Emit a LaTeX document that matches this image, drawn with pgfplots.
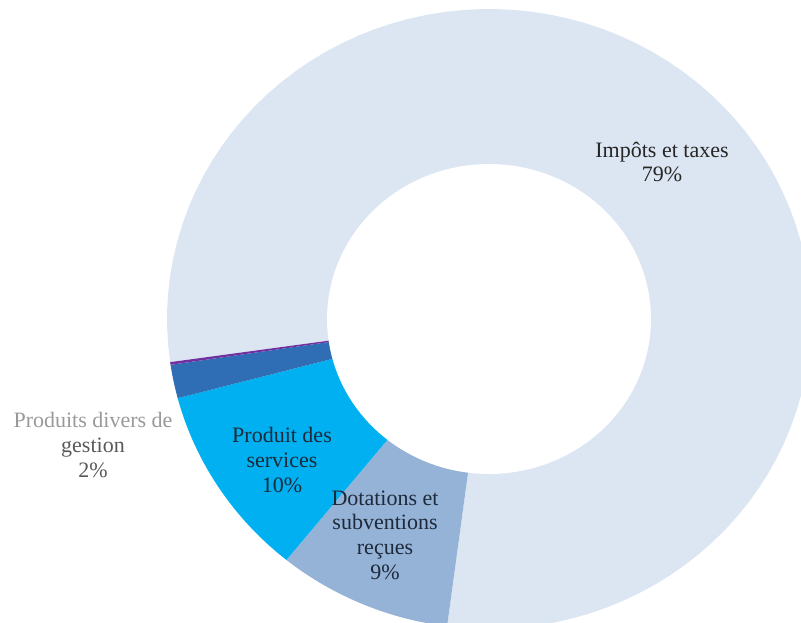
\documentclass[border=0pt]{standalone}
\usepackage{pgfplots}
\usepackage{pgfplotstable}
\pgfplotsset{compat=1.18}
\usepackage{fontspec}
\setmainfont{Liberation Serif}
\definecolor{c0}{HTML}{DCE6F2}
\definecolor{c1}{HTML}{95B3D7}
\definecolor{c2}{HTML}{00B0F0}
\definecolor{c3}{HTML}{2F6DB5}
\definecolor{c4}{HTML}{7030A0}
\definecolor{txt}{HTML}{1E2A3A}
\pgfplotstableread{
label value
Impots 79.30
Dotations 8.75
Services 10.06
Divers 1.75
Autres 0.14
}\parts
\begin{document}
\begin{tikzpicture}
\path[use as bounding box] (0,0) rectangle (600.75pt,467.25pt);
\begin{axis}[at={(0,0)}, anchor=south west, hide axis, scale only axis,
  width=600.75pt, height=467.25pt, xmin=0, xmax=801, ymin=0, ymax=623, clip=true]
\def\cx{489}\def\cy{304}\def\rx{322}\def\ry{310}
\def\acc{0}
\pgfplotsforeachungrouped \i in {0,...,4}{
  \pgfplotstablegetelem{\i}{value}\of\parts
  \pgfmathsetmacro{\a}{188-3.6*\acc}
  \pgfmathsetmacro{\acc}{\acc+\pgfplotsretval}
  \pgfmathsetmacro{\b}{188-3.6*\acc}
  \edef\temp{\noexpand\addplot[fill=c\i, draw=none, domain=\b:\a, samples=90] ({\cx+\rx*cos(x)},{\cy+\ry*sin(x)}) -- (axis cs:\cx,\cy) -- cycle;}
  \temp
}
\addplot[fill=white, draw=none, domain=0:360, samples=150] ({489+162*cos(x)},{304+155*sin(x)});
\node[align=center, text=black!85, font=\fontsize{16.5pt}{18.5pt}\selectfont] at (axis cs:662,461) {Impôts et taxes\\79\%};
\node[align=center, text=txt, font=\fontsize{16.5pt}{18.5pt}\selectfont] at (axis cs:282,163) {Produit des\\services\\10\%};
\node[align=center, text=txt, font=\fontsize{16.5pt}{18.5pt}\selectfont] at (axis cs:385,88) {Dotations et\\subventions\\reçues\\9\%};
\node[align=center, text=black!65, font=\fontsize{16.5pt}{18.5pt}\selectfont] at (axis cs:93,178) {\textcolor{black!40}{Produits divers de}\\gestion\\2\%};
\end{axis}
\end{tikzpicture}
\end{document}
